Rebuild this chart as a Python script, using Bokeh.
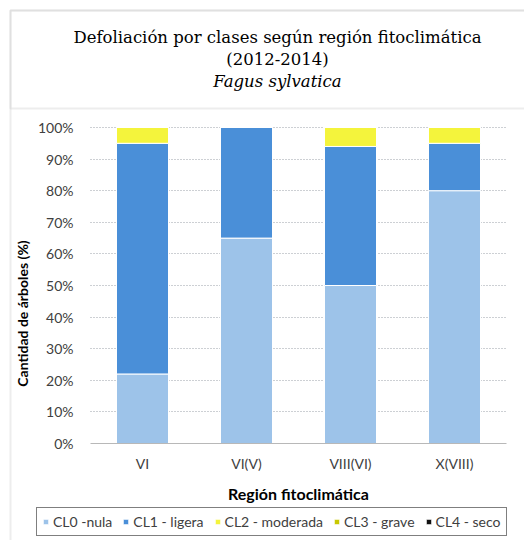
from bokeh.plotting import figure
from bokeh.models import (Range1d, Legend, LegendItem, FixedTicker,
                          CustomJSTickFormatter, BoxAnnotation)
from bokeh.core.properties import value
from bokeh.embed import file_html
from bokeh.resources import INLINE

title_lines = ["Defoliación por clases según región fitoclimática", "(2012-2014)", "Fagus sylvatica"]
regions = ["VI", "VI(V)", "VIII(VI)", "X(VIII)"]
classes = ["CL0 -nula", "CL1 - ligera", "CL2 - moderada", "CL3 - grave", "CL4 - seco"]
cl0 = [22, 65, 50, 80]
cl1 = [73, 35, 44, 15]
cl2 = [5, 0, 6, 5]
cl3 = [0, 0, 0, 0]
cl4 = [0, 0, 0, 0]
yticks = [0, 10, 20, 30, 40, 50, 60, 70, 80, 90, 100]
colors = ["#9dc3e9", "#4a8fd8", "#f4f43c", "#c8c800", "#111111"]

# ---- layout helpers (pixel -> data) ----
W, H = 524, 540
X0, XS = 142.0, 104.0          # pixel of first category, pixels per category
Y100, YS = 127.0, 3.16         # pixel of 100 %, pixels per percent
def px2x(px): return (px - X0) / XS
def px2y(py): return 100 - (py - Y100) / YS

p = figure(width=W, height=H, x_range=Range1d(px2x(0), px2x(W)),
           y_range=Range1d(px2y(H), px2y(0)), output_backend="svg",
           toolbar_location=None, min_border=0)
p.outline_line_color = None
p.background_fill_color = "white"

# decorative frames: outer chart area and title box
for bottom in (900, 108):
    p.add_layout(BoxAnnotation(left=px2x(10), right=px2x(900), top=px2y(10), bottom=px2y(bottom),
                               fill_color=None, line_color="#c4c4c4", line_width=2))

# title
tx = px2x(277)
p.text(x=[tx, tx], y=[px2y(37), px2y(59)], text=title_lines[:2],
       text_font=value("DejaVu Serif"), text_font_size="16.5px",
       text_align="center", text_baseline="middle", text_color="#000000")
p.text(x=[tx], y=[px2y(81)], text=title_lines[2:], text_font=value("DejaVu Serif"),
       text_font_style="italic", text_font_size="16.5px",
       text_align="center", text_baseline="middle", text_color="#000000")

# bars
xpos = list(range(len(regions)))
data = dict(x=xpos, c0=cl0, c1=cl1, c2=cl2, c3=cl3, c4=cl4)
rs = p.vbar_stack(["c0", "c1", "c2", "c3", "c4"], x="x", width=0.5, source=data,
                  fill_color=colors, line_color="white", line_width=1)

xl, xr = px2x(90), px2x(506)

# y axis (bounds extended downward only to shift the axis title like the original)
ya = p.yaxis[0]
ya.fixed_location = xl
ya.bounds = (2 * px2y(313) - 100, 100)
ya.ticker = FixedTicker(ticks=yticks)
ya.formatter = CustomJSTickFormatter(code="return tick + '%';")
ya.axis_line_color = None
ya.major_tick_line_color = None
ya.minor_tick_line_color = None
ya.major_tick_in = 0
ya.major_tick_out = 0
ya.major_label_standoff = 17
ya.major_label_text_font = "Lato"
ya.major_label_text_font_size = "14px"
ya.major_label_text_color = "#404040"
ya.axis_label = "Cantidad de árboles (%)"
ya.axis_label_text_font = "Lato"
ya.axis_label_text_font_style = "bold"
ya.axis_label_text_font_size = "14px"
ya.axis_label_text_color = "#000000"
ya.axis_label_standoff = 4

# x axis
xa = p.xaxis[0]
xa.fixed_location = 0
xa.bounds = (xl, xr)
xa.ticker = FixedTicker(ticks=xpos)
xa.major_label_overrides = {i: r for i, r in zip(xpos, regions)}
xa.axis_line_color = "#b8b8b8"
xa.axis_line_width = 1
xa.major_tick_line_color = None
xa.minor_tick_line_color = None
xa.major_tick_in = 0
xa.major_tick_out = 0
xa.major_label_standoff = 11
xa.major_label_text_font = "Lato"
xa.major_label_text_font_size = "14px"
xa.major_label_text_color = "#404040"
xa.axis_label = "Región fitoclimática"
xa.axis_label_text_font = "Lato"
xa.axis_label_text_font_style = "bold"
xa.axis_label_text_font_size = "16px"
xa.axis_label_text_color = "#000000"
xa.axis_label_standoff = 9

# grid
p.xgrid.visible = False
yg = p.ygrid[0]
yg.grid_line_color = "#9aa0a8"
yg.grid_line_dash = "1 2"
yg.ticker = FixedTicker(ticks=yticks[1:])
if "cross_bounds" in yg.properties():
    yg.cross_bounds = (xl, xr)

# legend
legend = Legend(items=[LegendItem(label=c, renderers=[r]) for c, r in zip(classes, rs)],
                orientation="horizontal", location=(36, H - 536))
legend.border_line_color = "#000000"
legend.border_line_width = 1
legend.label_text_font = "Lato"
legend.label_text_font_size = "14px"
legend.label_text_color = "#404040"
legend.glyph_width = 7
legend.glyph_height = 7
legend.label_standoff = 4
legend.spacing = 10
legend.padding = 5
legend.margin = 0
p.add_layout(legend)

open("out.html", "w").write(file_html(p, INLINE))
